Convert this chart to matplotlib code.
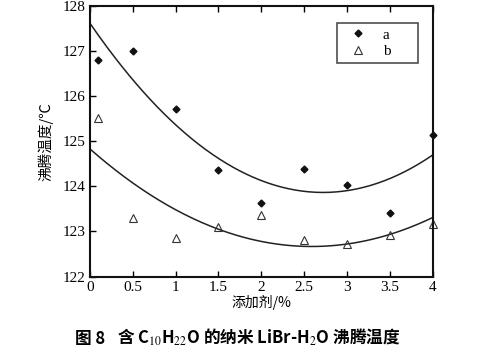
import numpy as np
import matplotlib
matplotlib.use("Agg")
import matplotlib.pyplot as plt

plt.rcParams['font.family'] = ['Liberation Serif', 'Noto Sans CJK SC', 'DejaVu Sans']
plt.rcParams['mathtext.fontset'] = 'stix'

# data
x_pts = [0.1, 0.5, 1.0, 1.5, 2.0, 2.5, 3.0, 3.5, 4.0]
temp_a = [126.8, 127.0, 125.7, 124.35, 123.63, 124.38, 124.03, 123.4, 125.13]
temp_b = [125.52, 123.3, 122.85, 123.1, 123.37, 122.82, 122.72, 122.92, 123.17]

# fitted curves, read at a few x positions
curve_x = [0, 1, 2, 3, 4]
curve_a = [127.6, 125.4, 124.1, 123.9, 124.7]
curve_b = [124.82, 123.5, 122.78, 122.7, 123.32]

xticks = [0, 0.5, 1, 1.5, 2, 2.5, 3, 3.5, 4]
xticklabels = ['0', '0.5', '1', '1.5', '2', '2.5', '3', '3.5', '4']
yticks = [122, 123, 124, 125, 126, 127, 128]

fig = plt.figure(figsize=(4.88, 3.51), dpi=100)
ax = fig.add_axes([0.184, 0.212, 0.703, 0.772])

# smooth curves through the read points
xs = np.linspace(0, 4, 200)
pa = np.polyfit(curve_x, curve_a, 2)
pb = np.polyfit(curve_x, curve_b, 2)
ax.plot(xs, np.polyval(pa, xs), color='#222222', lw=1.1)
ax.plot(xs, np.polyval(pb, xs), color='#222222', lw=1.1)

ax.plot(x_pts, temp_a, ls='none', marker='D', ms=3.5, color='#111111',
        label='a      ', clip_on=False)
ax.plot(x_pts, temp_b, ls='none', marker='^', ms=5.5, mfc='none',
        mec='#333333', mew=0.8, label='b      ', clip_on=False)

ax.set_xlim(0, 4)
ax.set_ylim(122, 128)
ax.set_xticks(xticks)
ax.set_xticklabels(xticklabels)
ax.set_yticks(yticks)
ax.tick_params(direction='in', length=4, width=1, labelsize=11, top=True,
               pad=3)
for s in ax.spines.values():
    s.set_linewidth(1.5)
    s.set_color('#111111')

ax.set_xlabel('添加剂/%', fontsize=10, family=['Noto Sans CJK SC'], labelpad=1)
ax.set_ylabel('沸腾温度/℃', fontsize=10.5, family=['Noto Sans CJK SC'], labelpad=7)

leg = ax.legend(loc='upper right', bbox_to_anchor=(0.957, 0.935), fontsize=11,
                frameon=True, fancybox=False, handlelength=2.2,
                handletextpad=0.5, borderpad=0.3, labelspacing=0.2,
                borderaxespad=0)
leg.get_frame().set_edgecolor('#222222')
leg.get_frame().set_linewidth(1.2)

fig.text(0.153, 0.02, '图 8', fontsize=12, weight='bold',
         family=['Noto Sans CJK SC'])
fig.text(0.24, 0.02, '含 C$_{10}$H$_{22}$O 的纳米 LiBr-H$_2$O 沸腾温度',
         fontsize=12, weight='bold', family=['Noto Sans CJK SC'])

plt.savefig('out.png', dpi=100)
